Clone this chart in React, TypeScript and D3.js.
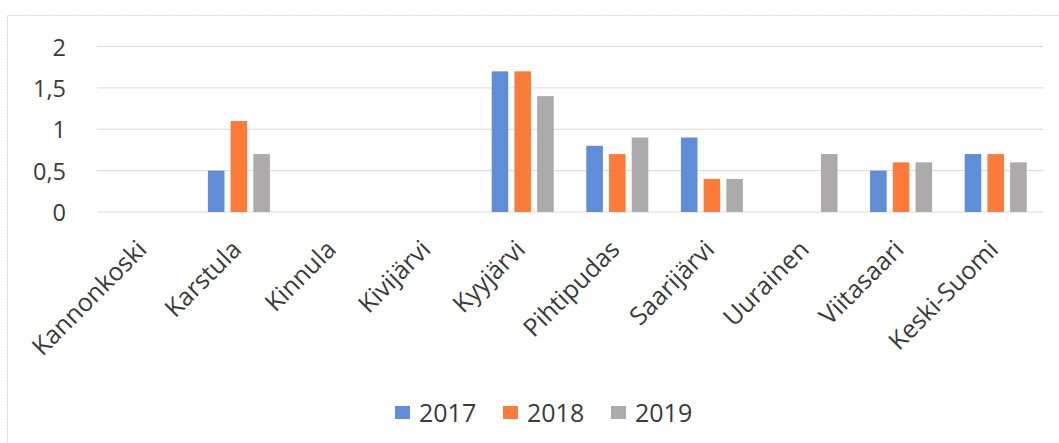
import React from "react";
import * as d3 from "d3";

const categories = ["Kannonkoski", "Karstula", "Kinnula", "Kivijärvi", "Kyyjärvi", "Pihtipudas", "Saarijärvi", "Uurainen", "Viitasaari", "Keski-Suomi"];
const seriesNames = ["2017", "2018", "2019"];
const values2017: (number | null)[] = [null, 0.5, null, null, 1.7, 0.8, 0.9, null, 0.5, 0.7];
const values2018: (number | null)[] = [null, 1.1, null, null, 1.7, 0.7, 0.4, null, 0.6, 0.7];
const values2019: (number | null)[] = [null, 0.7, null, null, 1.4, 0.9, 0.4, 0.7, 0.6, 0.6];
const yTicks = [0, 0.5, 1, 1.5, 2];
const colors = ["#5f8dd8", "#fd7c3c", "#acaaaa"];

const W = 1059;
const H = 443;
const left = 97;
const right = 1043;
const top = 46.5;
const bottom = 212;

export default function App() {
  const series = [values2017, values2018, values2019];
  const x = d3.scaleBand<string>().domain(categories).range([left, right]).padding(0);
  const y = d3.scaleLinear().domain([0, 2]).range([bottom, top]);
  const inner = d3.scaleBand<string>().domain(seriesNames).range([-31, 31]).paddingInner(0.27);
  const fmt = (v: number) => String(v).replace(".", ",");
  const font = "'Open Sans', sans-serif";
  const legendX = [395, 503, 611];

  return (
    <svg width={W} height={H} style={{ position: "absolute", left: 0, top: 0, background: "#fff" }}>
      <rect x={7.5} y={15.5} width={1060} height={440} fill="none" stroke="#d6d6d6" strokeDasharray="2,1" />
      {yTicks.map((t) => (
        <g key={t}>
          <line x1={left} x2={right} y1={y(t)} y2={y(t)} stroke="#d9d9d9" strokeWidth={1} />
          <text x={66} y={y(t)} textAnchor="end" dominantBaseline="central" fontFamily={font} fontSize={23.5} fill="#3a3a3a">
            {fmt(t)}
          </text>
        </g>
      ))}
      {series.map((vals, si) =>
        vals.map((v, ci) =>
          v == null ? null : (
            <rect
              key={`${si}-${ci}`}
              x={(x(categories[ci]) as number) + x.bandwidth() / 2 + (inner(seriesNames[si]) as number)}
              y={y(v)}
              width={inner.bandwidth()}
              height={y(0) - y(v)}
              fill={colors[si]}
            />
          )
        )
      )}
      {categories.map((c) => {
        const cx = (x(c) as number) + x.bandwidth() / 2;
        return (
          <text
            key={c}
            transform={`translate(${cx + 4},251) rotate(-45)`}
            textAnchor="end"
            fontFamily={font}
            fontSize={25}
            fill="#3a3a3a"
          >
            {c}
          </text>
        );
      })}
      {seriesNames.map((s, i) => (
        <g key={s}>
          <rect x={legendX[i]} y={406} width={15} height={13} fill={colors[i]} />
          <text x={legendX[i] + 24} y={422} fontFamily={font} fontSize={25} fill="#3a3a3a">
            {s}
          </text>
        </g>
      ))}
    </svg>
  );
}
